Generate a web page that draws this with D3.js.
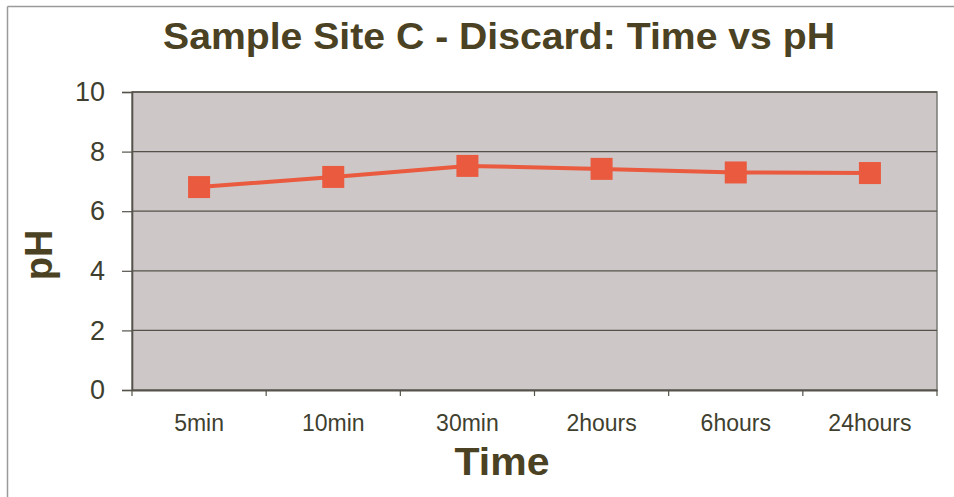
<!DOCTYPE html>
<html><head><meta charset="utf-8">
<script src="https://cdn.jsdelivr.net/npm/d3@7"></script>
<style>body{margin:0;background:#fff}svg{display:block}</style>
</head><body><svg id="c" width="954" height="497"></svg>
<script>
const categories = ["5min","10min","30min","2hours","6hours","24hours"];
const phValues = [6.81, 7.15, 7.52, 7.42, 7.30, 7.28];
const yTicks = [0,2,4,6,8,10];

const svg = d3.select("#c");
const m={left:132,top:92,right:937,bottom:390};
const FONT="Liberation Sans, Arial, sans-serif";

svg.append("line").attr("x1",7.5).attr("x2",954).attr("y1",6.5).attr("y2",6.5).attr("stroke","#9a9a9a").attr("stroke-width",1.5);
svg.append("line").attr("x1",7.5).attr("x2",7.5).attr("y1",6.5).attr("y2",497).attr("stroke","#9a9a9a").attr("stroke-width",1.5);

const x=d3.scaleBand().domain(categories).range([m.left,m.right]);
const y=d3.scaleLinear().domain([0,10]).range([m.bottom,m.top]);

svg.append("rect").attr("x",m.left).attr("y",m.top).attr("width",m.right-m.left).attr("height",m.bottom-m.top)
  .attr("fill","#cdc7c7").attr("stroke","#7a7a75").attr("stroke-width",1.5);

svg.append("g").selectAll("line").data(yTicks.filter(d=>d>0)).join("line")
  .attr("x1",m.left).attr("x2",m.right).attr("y1",d=>y(d)).attr("y2",d=>y(d))
  .attr("stroke","#55524a").attr("stroke-width",1.3);

const ya=svg.append("g").attr("transform",`translate(${m.left},0)`)
  .call(d3.axisLeft(y).tickValues(yTicks).tickSize(10).tickPadding(17));
ya.select(".domain").attr("stroke","#55524a").attr("stroke-width",1.6);
ya.selectAll(".tick line").attr("stroke","#55524a").attr("stroke-width",1.2);
ya.selectAll("text").attr("font-family",FONT).attr("font-size",27).attr("fill","#3f3f30");

const xa=svg.append("g").attr("transform",`translate(0,${m.bottom})`)
  .call(d3.axisBottom(x).tickSize(0).tickPadding(25));
xa.select(".domain").attr("stroke","#55524a").attr("stroke-width",1.8);
xa.selectAll("text").attr("font-family",FONT).attr("font-size",23).attr("fill","#3f3f30");
const bounds=categories.map(c=>x(c)).concat([m.right]);
svg.append("g").selectAll("line").data(bounds).join("line")
  .attr("x1",d=>d).attr("x2",d=>d).attr("y1",m.bottom).attr("y2",m.bottom+6)
  .attr("stroke","#55524a").attr("stroke-width",1.2);

const cx=c=>x(c)+x.bandwidth()/2;
svg.append("path").datum(phValues).attr("fill","none").attr("stroke","#ea5a3e").attr("stroke-width",4)
  .attr("d",d3.line().x((d,i)=>cx(categories[i])).y(d=>y(d)));
svg.append("g").selectAll("rect").data(phValues).join("rect")
  .attr("x",(d,i)=>cx(categories[i])-11).attr("y",d=>y(d)-11).attr("width",22).attr("height",22)
  .attr("fill","#ea5a3e");

svg.append("text").attr("x",499).attr("y",49).attr("text-anchor","middle")
  .attr("font-family",FONT).attr("font-weight","bold").attr("font-size",36)
  .attr("textLength",672).attr("lengthAdjust","spacingAndGlyphs")
  .attr("fill","#4a4223").text("Sample Site C - Discard: Time vs pH");
svg.append("text").attr("x",502).attr("y",475).attr("text-anchor","middle")
  .attr("font-family",FONT).attr("font-weight","bold").attr("font-size",38)
  .attr("textLength",95).attr("lengthAdjust","spacingAndGlyphs")
  .attr("fill","#4a4223").text("Time");
svg.append("text").attr("transform","translate(52,255) rotate(-90)").attr("text-anchor","middle")
  .attr("font-family",FONT).attr("font-weight","bold").attr("font-size",38)
  .attr("fill","#4a4223").text("pH");
</script></body></html>
